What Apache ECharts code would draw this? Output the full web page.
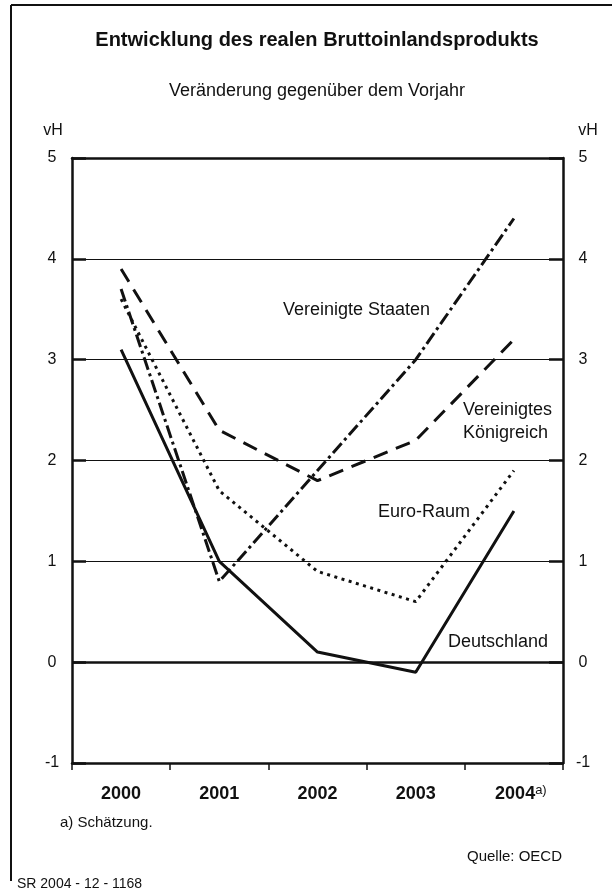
<!DOCTYPE html>
<html>
<head>
<meta charset="utf-8">
<script src="https://cdn.jsdelivr.net/npm/echarts@6/dist/echarts.min.js"></script>
<style>
  html, body { margin: 0; padding: 0; background: #fff; }
  #chart { width: 612px; height: 894px; }
</style>
</head>
<body>
<div id="chart"></div>
<script>
var years = ['2000', '2001', '2002', '2003', '2004'];
var deutschland = [3.1, 1.0, 0.1, -0.1, 1.5];
var euroRaum = [3.6, 1.7, 0.9, 0.6, 1.9];
var usa = [3.7, 0.8, 1.9, 3.0, 4.4];
var uk = [3.9, 2.3, 1.8, 2.2, 3.2];

var font = 'Liberation Sans, Arial, Helvetica, sans-serif';
var black = '#111';

function lineSeries(name, values, dash) {
  return {
    name: name,
    type: 'line',
    data: values,
    symbol: 'none',
    silent: true,
    lineStyle: { color: black, width: 3, type: dash, cap: 'butt' },
    z: 3
  };
}

var chart = echarts.init(document.getElementById('chart'));

var yAxisBase = {
  type: 'value',
  min: -1,
  max: 5,
  interval: 1,
  axisLine: { show: true, lineStyle: { color: black, width: 2.5 } },
  axisTick: { show: true, inside: true, length: 14, lineStyle: { color: black, width: 2.5 } },
  axisLabel: { color: black, fontFamily: font, fontSize: 16, align: 'center', margin: 20 }
};

var series = [
  lineSeries('Deutschland', deutschland, 'solid'),
  lineSeries('Euro-Raum', euroRaum, [3, 4.5]),
  lineSeries('Vereinigte Staaten', usa, [13, 4, 3, 4]),
  lineSeries('Vereinigtes Königreich', uk, [15, 9])
];
// Nulllinie kräftiger
series[0].markLine = {
  silent: true,
  symbol: 'none',
  label: { show: false },
  lineStyle: { color: black, width: 2.5, type: 'solid' },
  data: [{ yAxis: 0 }]
};

chart.setOption({
  backgroundColor: '#fff',
  animation: false,
  grid: { left: 72, right: 49, top: 158, bottom: 131 },
  xAxis: [{
    type: 'category',
    data: years,
    boundaryGap: true,
    axisLine: { onZero: false, lineStyle: { color: black, width: 2.5 } },
    axisTick: { show: true, length: 7, lineStyle: { color: black, width: 1.5 } },
    axisLabel: {
      color: black,
      margin: 21,
      formatter: function(v) {
        return v === '2004' ? '{p|' + v + '}{s|a)}' : '{b|' + v + '}';
      },
      rich: {
        b: { fontFamily: font, fontSize: 18, fontWeight: 'bold', color: black, lineHeight: 20 },
        p: { fontFamily: font, fontSize: 18, fontWeight: 'bold', color: black, lineHeight: 20, padding: [0, 0, 0, 14] },
        s: { fontFamily: font, fontSize: 13, color: black, lineHeight: 20, verticalAlign: 'top' }
      }
    },
    splitLine: { show: false }
  }, {
    type: 'category',
    data: years,
    position: 'top',
    axisLine: { onZero: false, lineStyle: { color: black, width: 2.5 } },
    axisTick: { show: false },
    axisLabel: { show: false }
  }],
  yAxis: [
    echarts.util.merge({
      position: 'left',
      splitLine: { show: true, lineStyle: { color: black, width: 1 } }
    }, yAxisBase),
    echarts.util.merge({
      position: 'right',
      splitLine: { show: false }
    }, yAxisBase)
  ],
  series: series,
  graphic: [
    { type: 'line', shape: { x1: 11, y1: 5, x2: 612, y2: 5 }, style: { stroke: black, lineWidth: 2 } },
    { type: 'line', shape: { x1: 11, y1: 5, x2: 11, y2: 881 }, style: { stroke: black, lineWidth: 2 } },
    { type: 'text', x: 317, y: 40, style: { text: 'Entwicklung des realen Bruttoinlandsprodukts', font: 'bold 20px ' + font, fill: black, textAlign: 'center', textVerticalAlign: 'middle' } },
    { type: 'text', x: 317, y: 91, style: { text: 'Veränderung gegenüber dem Vorjahr', font: '18px ' + font, fill: black, textAlign: 'center', textVerticalAlign: 'middle' } },
    { type: 'text', x: 53, y: 131, style: { text: 'vH', font: '16px ' + font, fill: black, textAlign: 'center', textVerticalAlign: 'middle' } },
    { type: 'text', x: 588, y: 131, style: { text: 'vH', font: '16px ' + font, fill: black, textAlign: 'center', textVerticalAlign: 'middle' } },
    { type: 'text', x: 283, y: 310, style: { text: 'Vereinigte Staaten', font: '18px ' + font, fill: black, textVerticalAlign: 'middle' } },
    { type: 'text', x: 463, y: 410, style: { text: 'Vereinigtes', font: '18px ' + font, fill: black, textVerticalAlign: 'middle' } },
    { type: 'text', x: 463, y: 433, style: { text: 'Königreich', font: '18px ' + font, fill: black, textVerticalAlign: 'middle' } },
    { type: 'text', x: 378, y: 512, style: { text: 'Euro-Raum', font: '18px ' + font, fill: black, textVerticalAlign: 'middle' } },
    { type: 'text', x: 448, y: 642, style: { text: 'Deutschland', font: '18px ' + font, fill: black, textVerticalAlign: 'middle' } },
    { type: 'text', x: 60, y: 823, style: { text: 'a) Schätzung.', font: '15px ' + font, fill: black, textVerticalAlign: 'middle' } },
    { type: 'text', x: 562, y: 857, style: { text: 'Quelle: OECD', font: '15px ' + font, fill: black, textAlign: 'right', textVerticalAlign: 'middle' } },
    { type: 'text', x: 17, y: 884, style: { text: 'SR 2004 - 12 - 1168', font: '14px ' + font, fill: black, textVerticalAlign: 'middle' } }
  ]
});
</script>
</body>
</html>
